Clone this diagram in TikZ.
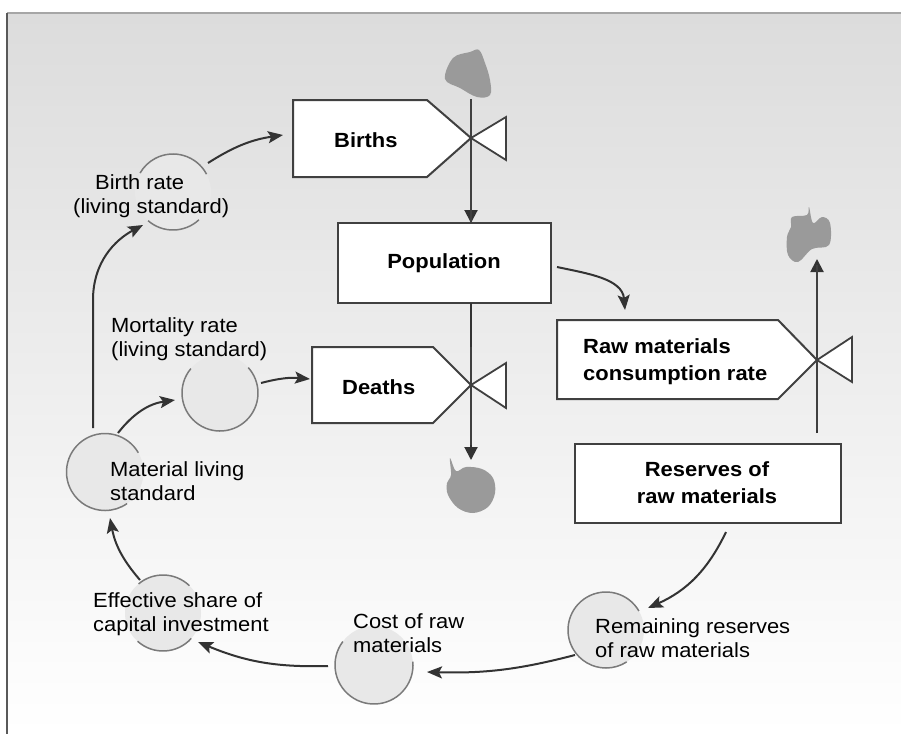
\documentclass[tikz,border=0pt]{standalone}
\usepackage{fontspec}
\setmainfont{Liberation Sans}[FakeStretch=1.07]
\usetikzlibrary{arrows.meta,calc}
\definecolor{bgtop}{HTML}{DCDCDC}
\definecolor{ink}{HTML}{333333}
\definecolor{boxline}{HTML}{404040}
\definecolor{circfill}{HTML}{E8E8E8}
\definecolor{circline}{HTML}{7A7A7A}
\definecolor{cloudgray}{HTML}{9A9A9A}
\begin{document}
\begin{tikzpicture}[x=1pt,y=1pt,
  lbl/.style={font=\fontsize{20.5}{24}\selectfont, text=black, inner sep=0pt, align=left, anchor=base west},
  blbl/.style={font=\bfseries\fontsize{20.5}{26.5}\selectfont, text=black, inner sep=0pt},
  stock/.style={draw=boxline, line width=2pt, fill=white, line join=miter},
  bigstock/.style={draw=boxline, line width=2.8pt, fill=white, inner sep=0pt, outer sep=0pt},
  valve/.style={draw=boxline, line width=1.8pt, fill=white, line join=miter},
  aux/.style={circle, fill=circfill, minimum size=76pt, inner sep=0pt, outer sep=0pt},
  auxarc/.style={draw=circline, line width=1.5pt},
  link/.style={draw=ink, line width=2pt, -{Stealth[length=15pt,width=12pt,inset=3pt]}},
  flow/.style={draw=ink, line width=2pt, -{Triangle[length=13pt,width=13pt]}},
  cloudst/.style={fill=cloudgray, draw=none}
]
\useasboundingbox (0,0) rectangle (901,-734);
% background frame
\shade[top color=bgtop, bottom color=white] (7,-13) rectangle (901,-734);
\draw[black!35, line width=1.5pt] (7,-13) -- (901,-13);
\draw[black!65, line width=2pt] (7,-13) -- (7,-734);

% clouds
\fill[cloudst] plot[smooth cycle, tension=0.6] coordinates {(445,-79) (453,-58) (470,-52) (479,-50) (485,-63) (490,-80) (490,-95) (477,-97) (460,-88)};
\fill[cloudst] plot[smooth cycle, tension=0.6] coordinates {(450,-458) (456,-471) (466,-467) (482,-469) (493,-478) (495,-493) (488,-507) (473,-513) (458,-508) (448,-495) (447,-483) (451,-475)};
\fill[cloudst] plot[smooth cycle, tension=0.6] coordinates {(792,-217) (807,-215) (809,-207) (813,-223) (822,-217) (830,-223) (829,-245) (812,-249) (798,-262) (788,-255) (787,-237) (791,-227)};
\coordinate (cloudB) at (471,-99);
\coordinate (cloudD) at (471,-460);
\coordinate (cloudR) at (817,-259);

% valve centres
\coordinate (vb) at (471,-138);
\coordinate (vd) at (471,-385);
\coordinate (vr) at (817,-360);

% stocks
\node[bigstock, minimum width=213pt, minimum height=80pt] (pop) at (444.5,-263) {};
\node[blbl] (poptext) at (444,-263) {Population};
\node[bigstock, minimum width=266pt, minimum height=79pt] (res) at (708,-483.5) {};
\node[blbl, align=center] (restext) at (707,-482.5) {Reserves of\\raw materials};

% flow lines
\draw[flow] (cloudB) -- (vb |- pop.north);
\draw[flow] (vb |- pop.south) -- (cloudD);
\draw[flow] ($(vr |- res.north)+(0,11)$) -- (cloudR);

% flow boxes (rates)
\draw[stock] (293,-100) -- (427,-100) -- (vb) -- (427,-177) -- (293,-177) -- cycle;
\draw[valve] (vb) -- (506,-117) -- (506,-160) -- cycle;
\draw[stock] (312,-347) -- (433,-347) -- (vd) -- (433,-423) -- (312,-423) -- cycle;
\draw[valve] (vd) -- (506,-363) -- (506,-408) -- cycle;
\draw[stock] (557,-320) -- (778,-320) -- (vr) -- (778,-399) -- (557,-399) -- cycle;
\draw[valve] (vr) -- (852,-337) -- (852,-382) -- cycle;
\draw[boxline, line width=1.8pt] (vb |- pop.north) ++(0,1) -- (cloudB);
\draw[boxline, line width=1.8pt] (vd) -- ++(0,38);
\draw[boxline, line width=1.8pt] (vd) -- ++(0,-60);
\draw[boxline, line width=1.8pt] (vr) -- ++(0,-70);
\draw[boxline, line width=1.8pt] (vr) -- ++(0,95);
\coordinate (birthsW) at (293,-138.5);
\coordinate (deathsW) at (312,-385);
\coordinate (rawN) at (625,-320);

\node[blbl, anchor=base west] (births) at (334,-147) {Births};
\node[blbl, anchor=base west] (deaths) at (342,-394) {Deaths};
\node[blbl, anchor=base west, align=left] (raw) at (583,-380) {Raw materials\\consumption rate};

% auxiliaries
\node[aux] (br) at (173,-192) {};
\draw[auxarc] (br.28) arc[start angle=28, end angle=150, radius=38pt];
\draw[auxarc] (br.-131) arc[start angle=-131, end angle=-47, radius=38pt];
\node[aux] (mr) at (220,-393) {};
\draw[auxarc] (mr.140) arc[start angle=140, end angle=402, radius=38pt];
\node[aux, minimum size=77pt] (ml) at (105,-472) {};
\draw[auxarc] (ml.30) arc[start angle=30, end angle=305, radius=38.5pt];
\node[aux] (es) at (163,-613) {};
\draw[auxarc] (es.46) arc[start angle=46, end angle=130, radius=38pt];
\draw[auxarc] (es.-132) arc[start angle=-132, end angle=-42, radius=38pt];
\node[aux, minimum size=78pt] (cr) at (374,-665) {};
\draw[auxarc] (cr.143) arc[start angle=143, end angle=365, radius=39pt];
\node[aux] (rr) at (606,-630) {};
\draw[auxarc] (rr.30) arc[start angle=30, end angle=303, radius=38pt];

\node[lbl] (brtext) at (73,-213) {\hspace*{22pt}Birth rate\\(living standard)};
\node[lbl] (mrtext) at (111,-356) {Mortality rate\\(living standard)};
\node[lbl] (mltext) at (110,-500) {Material living\\standard};
\node[lbl] (estext) at (93,-631) {Effective share of\\capital investment};
\node[lbl] (crtext) at (353,-652) {Cost of raw\\materials};
\node[lbl] (rrtext) at (595,-657) {Remaining reserves\\of raw materials};

% information links
\draw[link] ($(br)+(35,29)$) to[bend left=12] ($(birthsW)+(-10,3.5)$);
\draw[link] ($(ml)+(-12,44)$) -- (93,-300) .. controls (93,-262) and (115,-240) .. ($(br)+(-30,-33)$);
\draw[link] ($(ml)+(13,39)$) to[bend left=22] ($(mr)+(-45,-7)$);
\draw[link] ($(mr)+(41,10)$) to[bend left=10] ($(deathsW)+(-2,6)$);
\draw[link] ($(es)+(-23,33)$) to[bend left=15] ($(ml)+(5,-46)$);
\draw[link] ($(cr)+(-46,-1)$) to[bend left=12] ($(es)+(35,-29)$);
\draw[link] ($(rr)+(-31,-25)$) to[bend left=8] ($(cr)+(53,-7)$);
\draw[link] ($(res.south)+(18,-9)$) to[bend left=20] ($(rr)+(42,22)$);
\draw[link] ($(pop.east)+(6,-4)$) to[out=-12,in=95] ($(rawN)+(0,10)$);
\end{tikzpicture}
\end{document}
